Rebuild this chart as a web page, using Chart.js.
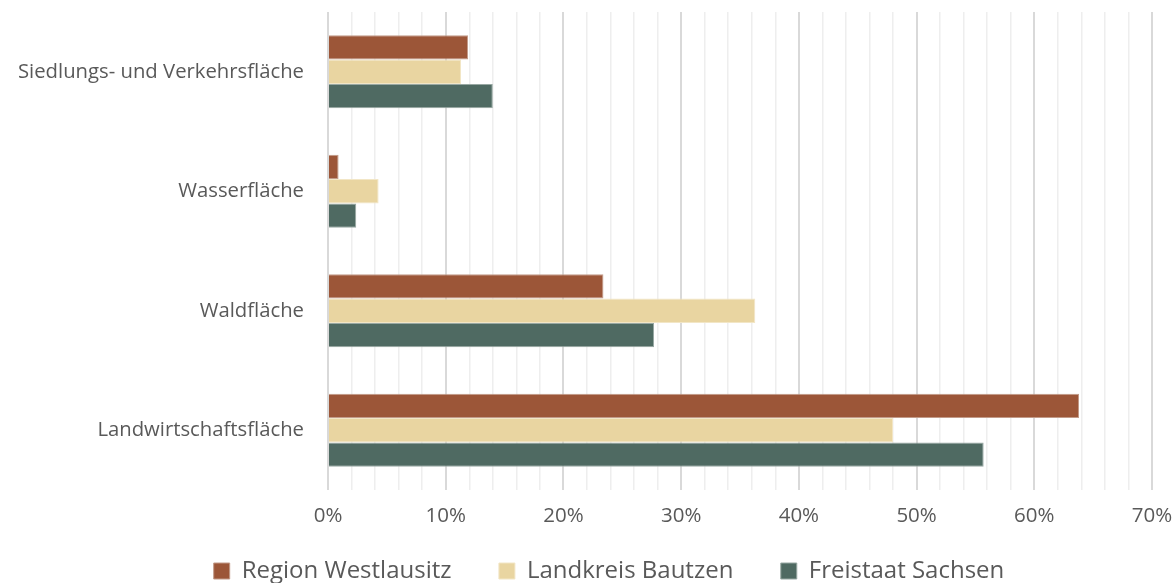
<!DOCTYPE html>
<html>
<head>
<meta charset="utf-8">
<script src="https://cdn.jsdelivr.net/npm/chart.js@4.4.1/dist/chart.umd.min.js"></script>
<style>
  html, body { margin: 0; padding: 0; background: #fff; }
  #wrap { width: 1175px; height: 583px; position: relative; }
</style>
</head>
<body>
<div id="wrap"><canvas id="flaechenChart"></canvas></div>
<script>
// Flächennutzung im Vergleich (Anteile in %)
const categories = ['Siedlungs- und Verkehrsfläche', 'Wasserfläche', 'Waldfläche', 'Landwirtschaftsfläche'];
const seriesNames = ['Region Westlausitz', 'Landkreis Bautzen', 'Freistaat Sachsen'];
const westlausitz = [11.9, 0.9, 23.4, 63.8];
const bautzen = [11.3, 4.3, 36.3, 48.0];
const sachsen = [14.0, 2.4, 27.7, 55.7];
const xTicks = [0, 10, 20, 30, 40, 50, 60, 70];

const textColor = '#595959';

// trailing spaces widen the gap between legend entries (Chart.js uses one padding for both directions)
const legendSpacer = ['      ', '      ', ''];

// the legend in the original sits a little right of centre
const legendShift = {
    id: 'legendShift',
    afterLayout(chart) {
        if (chart.legend) chart.legend.left += 66;
    }
};

new Chart(document.getElementById('flaechenChart').getContext('2d'), {
    type: 'bar',
    data: {
        labels: categories,
        datasets: [
            { label: seriesNames[0], data: westlausitz, backgroundColor: '#9C5638', borderColor: '#c29a88', borderWidth: 1 },
            { label: seriesNames[1], data: bautzen, backgroundColor: '#E9D5A1', borderColor: '#f2e6c6', borderWidth: 1 },
            { label: seriesNames[2], data: sachsen, backgroundColor: '#4F6A62', borderColor: '#98a8a3', borderWidth: 1 }
        ]
    },
    plugins: [legendShift],
    options: {
        indexAxis: 'y',
        responsive: true,
        maintainAspectRatio: false,
        animation: false,
        layout: { padding: { top: 12, right: 23, left: 0, bottom: -10 } },
        datasets: { bar: { categoryPercentage: 0.61, barPercentage: 1.0 } },
        plugins: {
            tooltip: { enabled: false },
            legend: {
                position: 'bottom',
                labels: {
                    color: textColor,
                    font: { family: 'Open Sans', size: 24 },
                    boxWidth: 16,
                    boxHeight: 16,
                    padding: 10,
                    generateLabels: function(chart) {
                        const items = Chart.defaults.plugins.legend.labels.generateLabels(chart);
                        items.forEach((item, i) => { item.text = item.text + legendSpacer[i]; });
                        return items;
                    }
                }
            }
        },
        scales: {
            x: {
                min: 0,
                max: 70,
                ticks: {
                    stepSize: 2,
                    autoSkip: false,
                    maxRotation: 0,
                    color: textColor,
                    padding: 14,
                    font: { family: 'Open Sans', size: 20.5 },
                    callback: function(value) {
                        return xTicks.includes(value) ? value + '%' : '';
                    }
                },
                grid: {
                    color: function(ctx) {
                        return ctx.tick && ctx.tick.value % 10 === 0 ? '#d9d9d9' : '#eeeeee';
                    },
                    lineWidth: function(ctx) {
                        return ctx.tick && ctx.tick.value % 10 === 0 ? 2 : 1.5;
                    },
                    drawTicks: false
                },
                border: { display: false },
                afterFit: function(scale) {
                    scale.height = 59;
                    scale.paddingLeft = 0;
                    scale.paddingRight = 0;
                }
            },
            y: {
                ticks: {
                    color: textColor,
                    padding: 16,
                    font: { family: 'Open Sans', size: 20.3 }
                },
                grid: { display: false },
                border: { display: false },
                afterFit: function(scale) {
                    scale.width = 328;
                    scale.paddingTop = 0;
                    scale.paddingBottom = 0;
                }
            }
        }
    }
});
</script>
</body>
</html>
